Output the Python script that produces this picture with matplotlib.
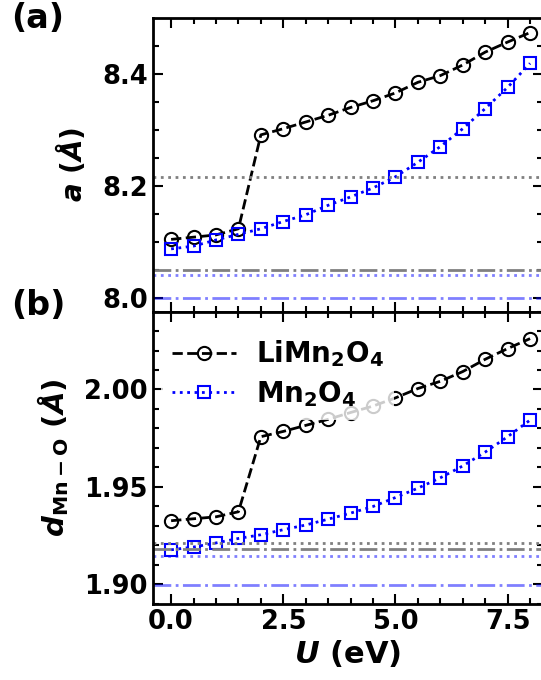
import matplotlib
matplotlib.use('Agg')
import matplotlib.pyplot as plt

# Hubbard U values (eV)
U = [0.0, 0.5, 1.0, 1.5, 2.0, 2.5, 3.0, 3.5, 4.0, 4.5, 5.0, 5.5, 6.0, 6.5, 7.0, 7.5, 8.0]

# lattice parameter a (Angstrom)
a_limn2o4 = [8.104, 8.108, 8.112, 8.123, 8.291, 8.302, 8.314, 8.326, 8.340, 8.352,
             8.366, 8.385, 8.397, 8.416, 8.439, 8.457, 8.474]
a_mn2o4 = [8.087, 8.092, 8.103, 8.113, 8.123, 8.136, 8.148, 8.165, 8.180, 8.196,
           8.216, 8.242, 8.270, 8.302, 8.338, 8.376, 8.419]

# average Mn-O bond length (Angstrom)
d_limn2o4 = [1.9327, 1.9337, 1.9347, 1.9373, 1.9758, 1.9785, 1.9816, 1.9847, 1.9882,
             1.9915, 1.9957, 2.0005, 2.0042, 2.0092, 2.0155, 2.0210, 2.0261]
d_mn2o4 = [1.9178, 1.9192, 1.9213, 1.9236, 1.9255, 1.9281, 1.9305, 1.9335, 1.9366,
           1.9400, 1.9446, 1.9494, 1.9547, 1.9608, 1.9679, 1.9758, 1.9843]

# reference values (horizontal lines)
a_ref_li_dot, a_ref_li_dashdot = 8.215, 8.050
a_ref_mn_dot, a_ref_mn_dashdot = 8.040, 8.000
d_ref_li_dot, d_ref_li_dashdot = 1.9211, 1.9182
d_ref_mn_dot, d_ref_mn_dashdot = 1.9148, 1.8995

plt.rcParams['font.family'] = 'DejaVu Sans'
plt.rcParams['font.weight'] = 'bold'
plt.rcParams['mathtext.fontset'] = 'dejavusans'
plt.rcParams['mathtext.default'] = 'bf'

fig = plt.figure(figsize=(5.41, 6.8), dpi=100)
ax1 = fig.add_axes([0.2823, 0.5419, 0.7207, 0.4316])
ax2 = fig.add_axes([0.2823, 0.1118, 0.7207, 0.4301])

li_style = dict(color='black', ls='--', lw=2, marker='o', ms=9.5, mfc='none', mew=1.5)
mn_style = dict(color='blue', ls=':', lw=2, marker='s', ms=9, mfc='none', mew=1.5)

ax1.plot(U, a_limn2o4, **li_style)
ax1.plot(U, a_mn2o4, **mn_style)
ax1.axhline(a_ref_li_dot, color='gray', ls=':', lw=2)
ax1.axhline(a_ref_li_dashdot, color='gray', ls='-.', lw=2)
ax1.axhline(a_ref_mn_dot, color='blue', alpha=0.5, ls=':', lw=2)
ax1.axhline(a_ref_mn_dashdot, color='blue', alpha=0.5, ls='-.', lw=2)

ax2.plot(U, d_limn2o4, label=r'LiMn$_2$O$_4$', **li_style)
ax2.plot(U, d_mn2o4, label=r'Mn$_2$O$_4$', **mn_style)
ax2.axhline(d_ref_li_dot, color='gray', ls=':', lw=2)
ax2.axhline(d_ref_li_dashdot, color='gray', ls='-.', lw=2)
ax2.axhline(d_ref_mn_dot, color='blue', alpha=0.5, ls=':', lw=2)
ax2.axhline(d_ref_mn_dashdot, color='blue', alpha=0.5, ls='-.', lw=2)

ax1.set_ylim(7.975, 8.5)
ax1.set_yticks([8.0, 8.2, 8.4])
ax1.set_yticks([x / 100 for x in range(800, 850, 5)], minor=True)
ax2.set_ylim(1.8903, 2.04)
ax2.set_yticks([1.90, 1.95, 2.00])
ax2.set_yticks([x / 100 for x in range(189, 205)], minor=True)

for ax in (ax1, ax2):
    ax.set_xlim(-0.41, 8.28)
    ax.set_xticks([0.0, 2.5, 5.0, 7.5])
    ax.set_xticks([x / 2 for x in range(0, 17)], minor=True)
    ax.tick_params(which='both', direction='in', top=True, right=True, width=1.5, labelsize=18.5)
    ax.tick_params(which='major', length=7)
    ax.tick_params(which='minor', length=4)
    for sp in ax.spines.values():
        sp.set_linewidth(2)
ax1.tick_params(labelbottom=False)

ax1.set_ylabel(r'$\mathbfit{a}$ ($\mathbfit{\AA}$)', fontsize=20, fontweight='bold')
ax2.set_ylabel(r'$\mathbfit{d}_{\mathbf{Mn-O}}$ ($\mathbfit{\AA}$)', fontsize=21, fontweight='bold')
ax2.set_xlabel(r'$\mathbfit{U}$ (eV)', fontsize=22, fontweight='bold', labelpad=2)
ax1.yaxis.set_label_coords(-0.165, 0.5)
ax2.yaxis.set_label_coords(-0.21, 0.5)

leg = ax2.legend(loc='upper left', fontsize=20, frameon=True, framealpha=0.8,
                 handlelength=2.3, handletextpad=0.7, borderaxespad=0.3,
                 labelspacing=0.35, bbox_to_anchor=(0.0, 0.975))
leg.get_frame().set_edgecolor('none')

fig.text(0.02, 0.997, '(a)', fontsize=24, fontweight='bold', va='top')
fig.text(0.02, 0.575, '(b)', fontsize=24, fontweight='bold', va='top')

fig.savefig('out.png', dpi=100)
